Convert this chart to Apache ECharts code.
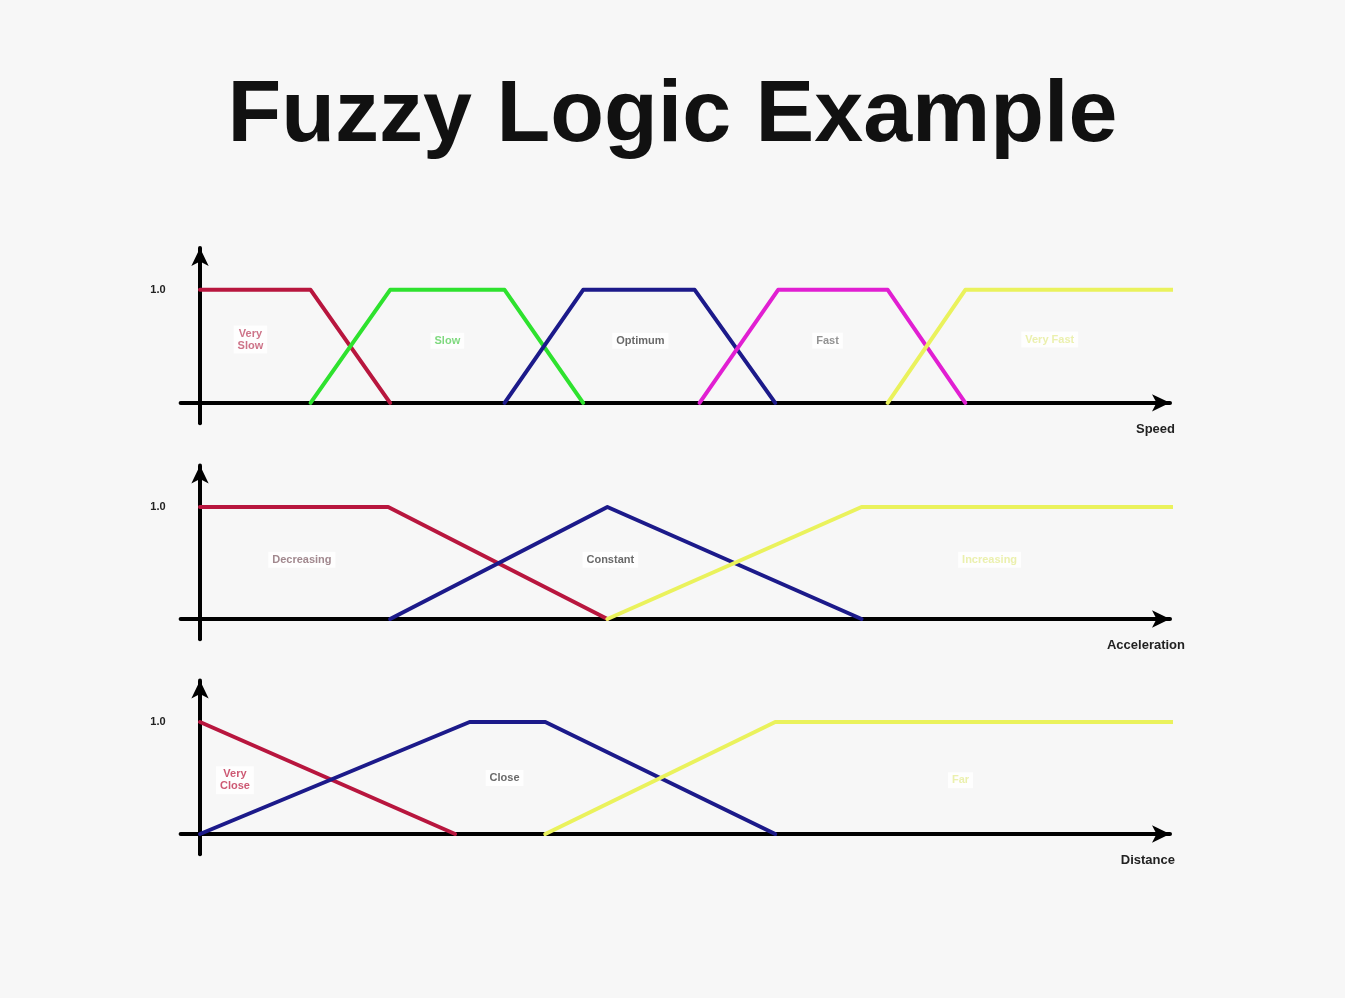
<!DOCTYPE html>
<html><head><meta charset="utf-8">
<script src="https://cdn.jsdelivr.net/npm/echarts@6/dist/echarts.min.js"></script>
<style>html,body{margin:0;padding:0;background:#f7f7f7}#c{width:1345px;height:998px}</style>
</head><body><div id="c"></div>
<script>
// ---- Data (x in universe units 0..100, y = membership degree) ----
const titleText = 'Fuzzy Logic Example';
const axisNames = ['Speed', 'Acceleration', 'Distance'];
const yTickValues = [1];
const yTickLabels = ['1.0'];

// Panel 1: Speed
const speedVerySlow = [[0, 1], [11.4, 1], [19.6, 0]];
const speedSlow     = [[11.4, 0], [19.6, 1], [31.4, 1], [39.5, 0]];
const speedOptimum  = [[31.4, 0], [39.5, 1], [51.0, 1], [59.3, 0]];
const speedFast     = [[51.5, 0], [59.6, 1], [70.9, 1], [78.9, 0]];
const speedVeryFast = [[70.9, 0], [78.9, 1], [101, 1]];
const speedLabels   = ['Very\nSlow', 'Slow', 'Optimum', 'Fast', 'Very Fast'];
const speedLabelX   = [5.2, 25.5, 45.4, 64.7, 87.6];
const speedLabelY   = [0.56, 0.55, 0.55, 0.55, 0.56];

// Panel 2: Acceleration
const accDecreasing = [[0, 1], [19.4, 1], [42.0, 0]];
const accConstant   = [[19.6, 0], [42.0, 1], [68.2, 0]];
const accIncreasing = [[42.0, 0], [68.2, 1], [101, 1]];
const accLabels     = ['Decreasing', 'Constant', 'Increasing'];
const accLabelX     = [10.5, 42.3, 81.4];
const accLabelY     = [0.53, 0.53, 0.53];

// Panel 3: Distance
const distVeryClose = [[0, 1], [26.3, 0]];
const distClose     = [[0, 0], [27.8, 1], [35.6, 1], [59.3, 0]];
const distFar       = [[35.6, 0], [59.3, 1], [101, 1]];
const distLabels    = ['Very\nClose', 'Close', 'Far'];
const distLabelX    = [3.6, 31.4, 78.4];
const distLabelY    = [0.48, 0.5, 0.48];

// ---- Styles / layout ----
const C = { red: '#b8163e', green: '#2ee22e', navy: '#1c1a8a', magenta: '#e11fd2', yellow: '#eaf25c' };
const labelColors = [
  ['#c0506a', '#5fd05f', '#444', '#777', '#e6ec9a'],
  ['#8a6a72', '#444', '#e6ec9a'],
  ['#c03050', '#444', '#e6ec9a']
];
const Y_MIN = -0.18, Y_MAX = 1.37;
const grids = [
  { left: 180.6, right: 175, top: 248, height: 175.15 },
  { left: 180.6, right: 175, top: 465.56, height: 173.6 },
  { left: 180.6, right: 175, top: 680.56, height: 173.6 }
];
const nameGaps = [5, 15, 5];

const chart = echarts.init(document.getElementById('c'));

function lineSeries(idx, data, color) {
  return {
    type: 'line', xAxisIndex: idx, yAxisIndex: idx, data: data,
    symbol: 'none', clip: false, silent: true,
    lineStyle: { color: color, width: 4, join: 'round', cap: 'round' },
    z: 3
  };
}
function labelSeries(idx, names, xs, ys) {
  return {
    type: 'scatter', xAxisIndex: idx, yAxisIndex: idx, symbolSize: 0, silent: true,
    data: names.map((n, i) => ({
      value: [xs[i], ys[i]], name: n,
      label: { color: labelColors[idx][i] }
    })),
    label: {
      show: true, position: 'inside', formatter: p => p.name,
      fontSize: 11, fontWeight: 'bold', fontFamily: 'Liberation Sans, Arial, sans-serif',
      lineHeight: 12, backgroundColor: '#ffffff', padding: [2, 4]
    },
    z: 5
  };
}

const xAxes = grids.map((g, i) => ({
  type: 'value', gridIndex: i, min: -2, max: 100,
  name: axisNames[i], nameLocation: 'end', nameGap: nameGaps[i],
  nameTextStyle: {
    align: 'right', verticalAlign: 'top', padding: [20, 0, 0, 0],
    fontSize: 13, fontWeight: 'bold', color: '#222', fontFamily: 'Liberation Sans, Arial, sans-serif'
  },
  axisLine: { show: true, onZero: true, symbol: ['none', 'arrow'], symbolSize: [13, 18],
    lineStyle: { color: '#000', width: 4 } },
  axisTick: { show: false }, axisLabel: { show: false }, splitLine: { show: false }
}));
const yAxes = grids.map((g, i) => ({
  type: 'value', gridIndex: i, min: Y_MIN, max: Y_MAX,
  axisLine: { show: true, onZero: true, symbol: ['none', 'arrow'], symbolSize: [13, 18],
    lineStyle: { color: '#000', width: 4 } },
  axisTick: { show: false }, splitLine: { show: false },
  axisLabel: {
    show: true, customValues: yTickValues,
    formatter: v => yTickLabels[yTickValues.indexOf(v)] || '',
    fontSize: 11, fontWeight: 'bold', color: '#222', margin: 15,
    fontFamily: 'Liberation Sans, Arial, sans-serif'
  }
}));

chart.setOption({
  backgroundColor: '#f7f7f7',
  animation: false,
  title: {
    text: titleText, left: 'center', top: 68,
    textStyle: { fontSize: 88, fontWeight: 'bold', color: '#111', fontFamily: 'Liberation Sans, Arial, sans-serif' }
  },
  grid: grids.map(g => Object.assign({ containLabel: false, outerBoundsMode: 'none' }, g)),
  xAxis: xAxes,
  yAxis: yAxes,
  series: [
    lineSeries(0, speedVerySlow, C.red),
    lineSeries(0, speedSlow, C.green),
    lineSeries(0, speedOptimum, C.navy),
    lineSeries(0, speedFast, C.magenta),
    lineSeries(0, speedVeryFast, C.yellow),
    labelSeries(0, speedLabels, speedLabelX, speedLabelY),
    lineSeries(1, accDecreasing, C.red),
    lineSeries(1, accConstant, C.navy),
    lineSeries(1, accIncreasing, C.yellow),
    labelSeries(1, accLabels, accLabelX, accLabelY),
    lineSeries(2, distVeryClose, C.red),
    lineSeries(2, distClose, C.navy),
    lineSeries(2, distFar, C.yellow),
    labelSeries(2, distLabels, distLabelX, distLabelY)
  ]
});
</script>
</body></html>
